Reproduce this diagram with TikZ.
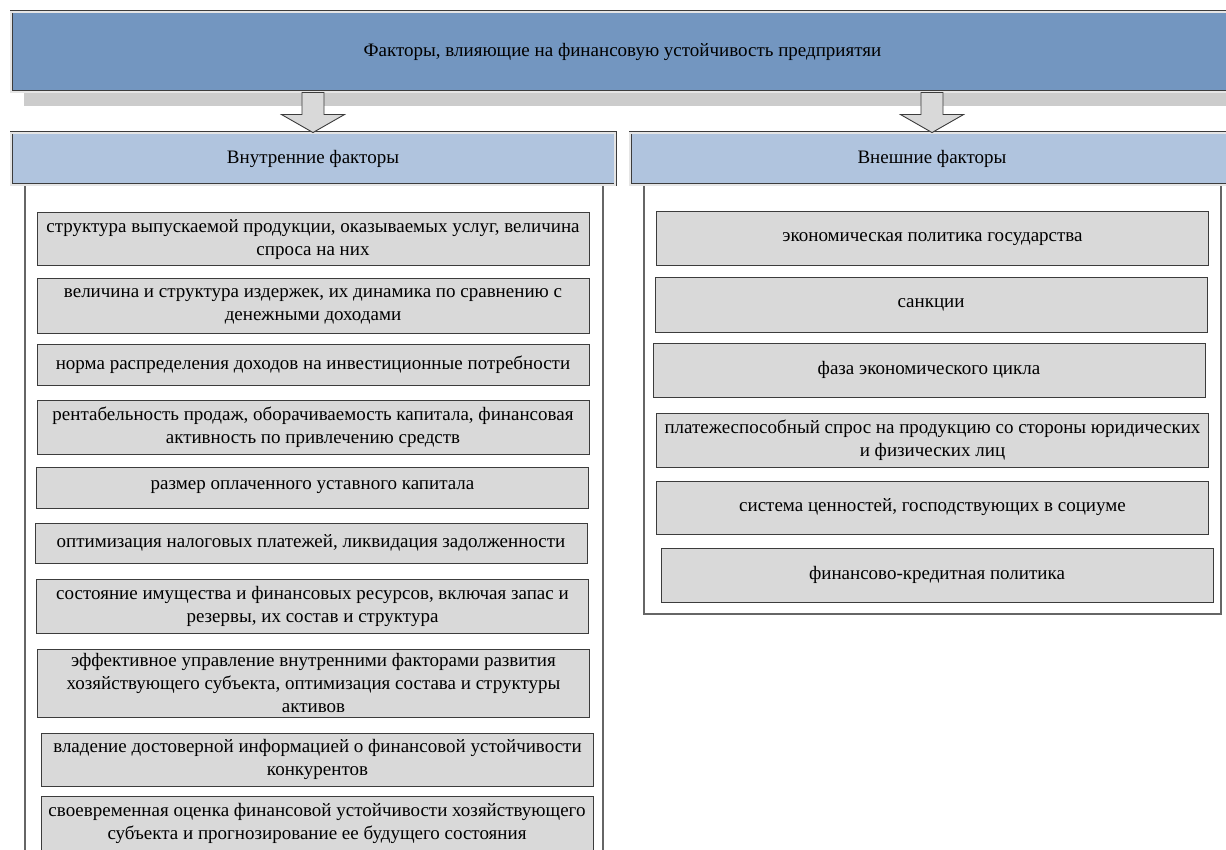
\documentclass[tikz,border=0pt]{standalone}
\usepackage{fontspec}
\setmainfont{Liberation Serif}
\usepackage{tikz}
\usepackage{xcolor}

\definecolor{titleblue}{RGB}{115,150,192}
\definecolor{headblue}{RGB}{176,196,222}
\definecolor{boxgray}{RGB}{217,217,217}
\definecolor{shadowgray}{RGB}{204,204,204}
\definecolor{linegray}{RGB}{60,60,60}

\begin{document}
\begin{tikzpicture}[x=1pt, y=-1pt,
    font=\fontsize{19}{23}\selectfont,
    titlebox/.style={draw=linegray, line width=0.9pt, double=white!90!black,
        double distance=1.2pt, fill=titleblue, inner sep=0pt,
        minimum width=1223pt, minimum height=80pt},
    headbox/.style={titlebox, fill=headblue, minimum width=604pt, minimum height=52pt},
    factor/.style={draw=linegray, line width=1pt, fill=boxgray, inner sep=0pt,
        align=center, minimum width=552pt, minimum height=54pt},
    frame/.style={draw=black!60, line width=1.2pt},
    blockarrow/.style={draw=linegray, line width=0.9pt, fill=boxgray}]
    \useasboundingbox (0,0) rectangle (1226,850);
    \clip (0,0) rectangle (1226,850);

    % shadow of the title
    \fill[shadowgray] (24,26) rectangle (1247,106);

    % frames round the two columns
    \draw[frame] (25,180) rectangle (603,880);
    \draw[frame] (644,180) rectangle (1221,614);

    % title and headers
    \node[titlebox] (title) at (622.5,52) {Факторы, влияющие на финансовую устойчивость предприятяи};
    \node[headbox] (inner) at (313,159) {Внутренние факторы};
    \node[headbox] (outer) at (932,159) {Внешние факторы};

    % block arrows
    \draw[blockarrow] (inner.north) -- ++(-31.5,-18) -- ++(20.5,0) -- ++(0,-22)
        -- ++(22,0) -- ++(0,22) -- ++(20.5,0) -- cycle;
    \draw[blockarrow] (outer.north) -- ++(-31.5,-18) -- ++(20.5,0) -- ++(0,-22)
        -- ++(22,0) -- ++(0,22) -- ++(20.5,0) -- cycle;

    % internal factors
    \node[factor, minimum height=53pt] (in1) at (313,239.5) {структура выпускаемой продукции, оказываемых услуг, величина\\спроса на них};
    \node[factor] (in2) at (313,306) {величина и структура издержек, их динамика по сравнению с\\денежными доходами};
    \node[factor, minimum height=41pt] (in3) at (313,364.5) {норма распределения доходов на инвестиционные потребности};
    \node[factor] (in4) at (313,427) {рентабельность продаж, оборачиваемость капитала, финансовая\\активность по привлечению средств};
    \node[factor, minimum height=41pt] (in5) at (312.5,487.5) {размер оплаченного уставного капитала};
    \node[factor, minimum height=40pt] (in6) at (311,543) {оптимизация налоговых платежей, ликвидация задолженности};
    \node[factor] (in7) at (312.5,606) {состояние имущества и финансовых ресурсов, включая запас и\\резервы, их состав и структура};
    \node[factor, minimum height=68pt] (in8) at (313.5,683) {эффективное управление внутренними факторами развития\\хозяйствующего субъекта, оптимизация состава и структуры\\активов};
    \node[factor, minimum height=53pt] (in9) at (317.5,759.5) {владение достоверной информацией о финансовой устойчивости\\конкурентов};
    \node[factor] (in10) at (317,823) {своевременная оценка финансовой устойчивости хозяйствующего\\субъекта и прогнозирование ее будущего состояния};

    % external factors
    \node[factor] (ex1) at (932.5,239) {экономическая политика государства};
    \node[factor] (ex2) at (931,305) {санкции};
    \node[factor] (ex3) at (929,370) {фаза экономического цикла};
    \node[factor] (ex4) at (932.5,440) {платежеспособный спрос на продукцию со стороны юридических\\и физических лиц};
    \node[factor, minimum height=53pt] (ex5) at (932.5,507.5) {система ценностей, господствующих в социуме};
    \node[factor] (ex6) at (937,575) {финансово-кредитная политика};
\end{tikzpicture}
\end{document}
